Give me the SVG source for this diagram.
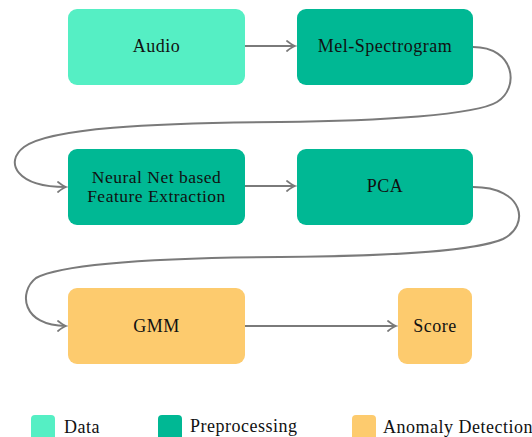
<svg xmlns="http://www.w3.org/2000/svg" width="532" height="437" viewBox="0 0 532 437">
  <defs>
    <marker id="arrow" markerWidth="14" markerHeight="14" refX="10" refY="7" orient="auto" markerUnits="userSpaceOnUse">
      <path d="M2,2 Q7,6 10,7 Q7,8 2,12" fill="none" stroke="#7a7a7a" stroke-width="1.8" stroke-linecap="round"/>
    </marker>
    <style>
      .data { fill: #55efc4; }
      .prep { fill: #00b894; }
      .anom { fill: #fdcb6e; }
      .edge { fill: none; stroke: #7a7a7a; stroke-width: 2; marker-end: url(#arrow); }
    </style>
  </defs>
  <rect width="532" height="437" fill="#ffffff"/>

  <g id="connectors">
    <path class="edge" d="M245,46 L295,46"/>
    <path class="edge" d="M473,47 C515,47 520,88 497,102 C476,115 380,121 280,122 C150,123 50,128 24,147 C4,162 16,187 66,187"/>
    <path class="edge" d="M245,186 L295,186"/>
    <path class="edge" d="M473,187 C525,187 530,226 503,239 C478,250 400,256 280,257 C150,258 60,265 36,278 C18,292 22,326 66,326"/>
    <path class="edge" d="M245,326 L396,326"/>
  </g>

  <g font-family="Liberation Serif, serif" font-size="18" letter-spacing="0.5" fill="#111">
    <g id="audio">
      <rect class="data" x="68" y="9" width="177" height="76" rx="9"/>
      <text x="156.5" y="52" text-anchor="middle">Audio</text>
    </g>
    <g id="mel-spectrogram">
      <rect class="prep" x="297" y="9" width="176" height="76" rx="9"/>
      <text x="385" y="52" text-anchor="middle">Mel-Spectrogram</text>
    </g>
    <g id="feature-extraction">
      <rect class="prep" x="68" y="149" width="177" height="76" rx="9"/>
      <text x="156.5" y="182.5" text-anchor="middle" font-size="17.5">Neural Net based</text>
      <text x="156.5" y="202" text-anchor="middle" font-size="17.5">Feature Extraction</text>
    </g>
    <g id="pca">
      <rect class="prep" x="297" y="149" width="176" height="76" rx="9"/>
      <text x="385" y="192" text-anchor="middle">PCA</text>
    </g>
    <g id="gmm">
      <rect class="anom" x="68" y="288" width="177" height="76" rx="9"/>
      <text x="156.5" y="332" text-anchor="middle">GMM</text>
    </g>
    <g id="score">
      <rect class="anom" x="398" y="288" width="74" height="76" rx="9"/>
      <text x="435" y="332" text-anchor="middle">Score</text>
    </g>

    <g id="legend">
      <rect class="data" x="31" y="415" width="24" height="26" rx="4"/>
      <text x="64" y="433">Data</text>
      <rect class="prep" x="158" y="415" width="24" height="26" rx="4"/>
      <text x="190" y="432">Preprocessing</text>
      <rect class="anom" x="352" y="415" width="24" height="26" rx="4"/>
      <text x="383" y="433">Anomaly Detection</text>
    </g>
  </g>
</svg>
